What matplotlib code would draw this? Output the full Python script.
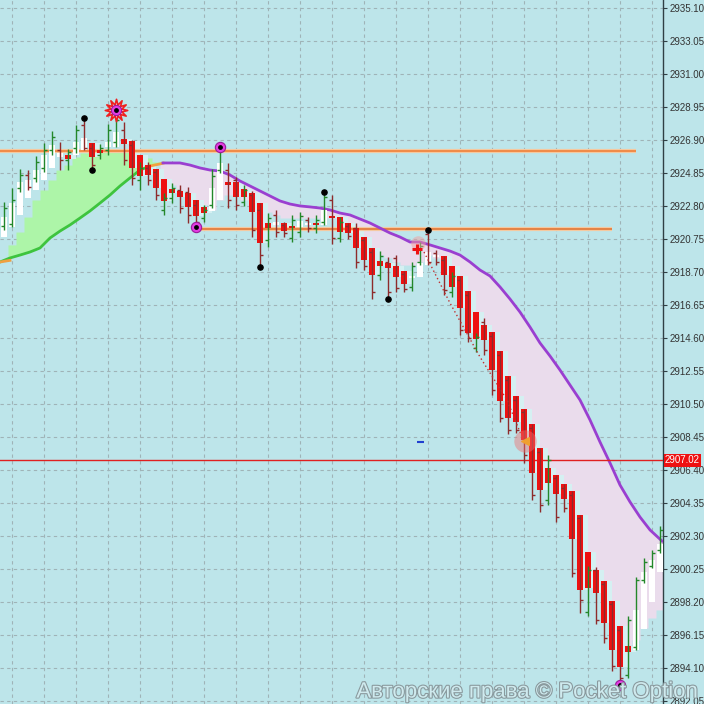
import numpy as np
import matplotlib
matplotlib.use("Agg")
import matplotlib.pyplot as plt
import matplotlib.patheffects as pe
from matplotlib.transforms import blended_transform_factory

plt.rcParams['font.family'] = ['Liberation Sans', 'DejaVu Sans']

# smoothed (heiken-ashi like) bodies, one per bar
ha_open = [2920.88, 2921.50, 2922.25, 2923.30, 2923.80, 2924.42, 2925.17, 2925.85, 2925.97, 2925.97,
           2926.28, 2926.72, 2926.28, 2926.47, 2926.47, 2926.97, 2926.84, 2925.97, 2925.35, 2925.11,
           2924.48, 2923.86, 2923.74, 2923.61, 2923.18, 2922.75, 2922.50, 2923.18, 2924.30, 2924.30,
           2923.86, 2923.61, 2922.99, 2921.75, 2921.63, 2921.75, 2921.57, 2921.50, 2921.63, 2921.75,
           2921.63, 2922.19, 2922.12, 2921.75, 2921.44, 2920.88, 2920.20, 2919.39, 2919.27, 2919.08,
           2918.77, 2918.34, 2918.40, 2919.14, 2919.64, 2919.70, 2919.08, 2918.46, 2917.53, 2916.22,
           2915.42, 2914.98, 2913.80, 2912.25, 2911.01, 2910.20, 2909.27, 2907.78, 2906.54, 2906.10,
           2905.54, 2905.11, 2903.62, 2901.32, 2900.20, 2899.52, 2898.28, 2896.73, 2895.48, 2895.23,
           2896.54, 2898.22, 2900.08]
ha_close = [2922.12, 2922.99, 2924.30, 2924.42, 2925.04, 2925.97, 2926.60, 2926.10, 2925.73, 2926.78,
            2927.03, 2925.85, 2926.10, 2926.78, 2927.40, 2926.66, 2925.17, 2924.67, 2924.73, 2923.93,
            2923.12, 2923.61, 2923.37, 2922.75, 2922.19, 2922.37, 2923.93, 2925.48, 2924.11, 2923.37,
            2923.37, 2922.43, 2920.51, 2921.44, 2921.81, 2921.25, 2921.44, 2921.88, 2921.75, 2921.63,
            2922.56, 2922.06, 2921.19, 2921.13, 2920.20, 2919.45, 2918.52, 2919.08, 2918.96, 2918.40,
            2917.96, 2918.46, 2919.27, 2919.95, 2919.76, 2918.52, 2917.78, 2916.47, 2914.92, 2914.55,
            2914.49, 2912.62, 2910.70, 2909.64, 2909.39, 2908.28, 2906.23, 2905.17, 2905.61, 2904.92,
            2904.61, 2902.13, 2898.96, 2899.09, 2898.77, 2896.91, 2895.23, 2894.18, 2895.11, 2897.72,
            2900.08, 2900.82, 2901.82]

# real OHLC, drawn as thin bars
bar_high = [2923.06, 2923.93, 2925.11, 2925.04, 2925.91, 2926.72, 2927.46, 2926.78, 2926.35, 2927.84,
            2928.27, 2926.72, 2926.66, 2927.90, 2928.58, 2928.02, 2926.91, 2925.54, 2925.54, 2925.11,
            2923.61, 2924.24, 2924.11, 2923.99, 2923.18, 2922.87, 2925.11, 2926.47, 2925.48, 2924.61,
            2924.11, 2923.74, 2922.99, 2922.37, 2922.56, 2921.81, 2922.25, 2922.43, 2922.12, 2922.25,
            2923.68, 2923.49, 2922.12, 2921.75, 2921.75, 2920.88, 2920.20, 2920.01, 2919.64, 2919.76,
            2918.77, 2919.33, 2920.57, 2921.38, 2920.07, 2919.70, 2918.71, 2918.46, 2917.53, 2914.92,
            2915.85, 2914.98, 2913.80, 2912.25, 2911.01, 2910.20, 2909.27, 2907.78, 2907.34, 2906.10,
            2905.54, 2905.11, 2903.62, 2900.45, 2900.39, 2899.52, 2898.28, 2896.73, 2897.35, 2899.77,
            2900.95, 2901.44, 2902.94]
bar_low = [2921.32, 2921.50, 2923.68, 2923.80, 2924.30, 2924.92, 2925.97, 2925.04, 2925.04, 2926.10,
           2926.28, 2925.04, 2925.73, 2925.97, 2926.47, 2925.35, 2924.11, 2923.80, 2924.11, 2923.18,
           2922.25, 2922.99, 2922.37, 2921.75, 2921.50, 2921.81, 2922.68, 2924.86, 2922.68, 2922.56,
           2922.81, 2920.88, 2919.02, 2920.26, 2920.88, 2920.88, 2920.57, 2920.88, 2921.19, 2921.13,
           2921.63, 2920.45, 2920.57, 2920.76, 2918.96, 2918.83, 2917.03, 2918.21, 2917.03, 2917.47,
           2917.47, 2917.53, 2919.14, 2919.14, 2919.14, 2917.28, 2917.16, 2914.80, 2914.36, 2913.74,
           2913.55, 2911.07, 2909.39, 2908.65, 2908.71, 2906.85, 2904.55, 2903.80, 2904.24, 2903.18,
           2903.80, 2899.77, 2897.53, 2897.35, 2896.85, 2895.67, 2893.93, 2893.19, 2893.50, 2895.23,
           2899.40, 2900.33, 2901.26]
bar_open = [2921.57, 2921.69, 2923.93, 2924.73, 2924.55, 2925.17, 2926.28, 2926.28, 2925.66, 2926.41,
            2927.84, 2926.41, 2925.97, 2926.28, 2926.78, 2927.53, 2926.60, 2924.42, 2925.17, 2924.92,
            2922.56, 2923.30, 2923.80, 2923.68, 2922.87, 2922.06, 2922.87, 2925.04, 2925.04, 2924.42,
            2923.06, 2923.49, 2922.56, 2920.70, 2922.25, 2921.63, 2920.82, 2921.19, 2921.94, 2921.44,
            2921.81, 2923.18, 2920.82, 2921.57, 2921.44, 2920.70, 2919.95, 2918.52, 2919.33, 2919.58,
            2918.58, 2917.78, 2919.33, 2921.07, 2919.89, 2919.45, 2917.47, 2918.21, 2917.28, 2913.99,
            2915.60, 2914.73, 2913.55, 2912.00, 2910.76, 2910.01, 2909.02, 2907.53, 2904.55, 2905.92,
            2905.30, 2904.86, 2903.43, 2897.59, 2900.20, 2899.33, 2898.09, 2896.48, 2893.68, 2895.42,
            2899.58, 2900.45, 2901.44]
bar_close = [2922.68, 2923.18, 2924.73, 2923.99, 2925.54, 2926.28, 2927.09, 2925.66, 2926.16, 2927.53,
             2926.41, 2925.35, 2926.41, 2927.53, 2928.15, 2925.66, 2924.55, 2925.17, 2924.42, 2923.49,
             2923.30, 2923.93, 2922.68, 2922.25, 2921.81, 2922.56, 2924.67, 2926.28, 2923.18, 2922.87,
             2923.80, 2921.32, 2919.76, 2922.06, 2921.19, 2921.13, 2921.94, 2922.19, 2921.44, 2921.94,
             2923.37, 2920.82, 2921.81, 2920.94, 2919.33, 2919.08, 2917.47, 2919.70, 2917.47, 2917.72,
             2917.65, 2919.08, 2920.32, 2919.33, 2919.33, 2917.59, 2918.46, 2915.11, 2914.61, 2914.67,
             2913.86, 2911.38, 2909.64, 2908.90, 2908.90, 2907.34, 2904.86, 2904.24, 2907.03, 2903.49,
             2904.05, 2900.02, 2898.34, 2900.20, 2897.10, 2895.98, 2894.24, 2893.50, 2897.10, 2899.58,
             2900.70, 2901.26, 2902.69]

# moving average: green part (rising) and purple part (falling)
ma_green_x = [-0.5, 0.75, 2.0, 3.25, 4.5, 5.75, 7.0, 8.25, 9.5, 10.75, 12.0, 13.25, 14.5, 15.75,
              17.0, 18.25, 19.5, 19.9]
ma_green_y = [2919.33, 2919.58, 2919.76, 2919.95, 2920.20, 2920.82, 2921.25, 2921.63, 2922.06, 2922.50,
              2922.99, 2923.49, 2924.05, 2924.55, 2925.04, 2925.29, 2925.42, 2925.47]
ma_purple_x = [19.875, 22.0, 23.25, 24.5, 25.75, 27.0, 28.25, 29.5, 30.75, 32.0, 33.25, 34.5, 35.75,
               37.0, 38.25, 39.5, 40.75, 42.0, 43.25, 44.5, 45.75, 47.0, 48.25, 49.5, 50.75, 52.0,
               53.25, 54.5, 55.75, 57.0, 58.25, 59.5, 60.75, 62.0, 63.25, 64.5, 65.75, 67.0, 68.25,
               69.5, 70.75, 72.0, 73.25, 74.5, 75.75, 77.0, 78.25, 79.5, 80.75, 82.25]
ma_purple_y = [2925.48, 2925.48, 2925.35, 2925.17, 2925.04, 2924.98, 2924.73, 2924.36, 2924.05, 2923.74,
               2923.43, 2923.12, 2922.93, 2922.81, 2922.75, 2922.68, 2922.56, 2922.37, 2922.25, 2922.00,
               2921.75, 2921.44, 2921.13, 2920.88, 2920.57, 2920.57, 2920.39, 2920.20, 2920.01, 2919.76,
               2919.33, 2918.83, 2918.46, 2917.78, 2917.03, 2916.22, 2915.29, 2914.30, 2913.49, 2912.62,
               2911.69, 2910.76, 2909.52, 2908.15, 2906.85, 2905.48, 2904.43, 2903.49, 2902.69, 2902.00]

# other edge of the shaded band
green_band_idx = list(range(1, 20))
green_band_top = [2920.39, 2921.19, 2922.12, 2923.18, 2923.80, 2924.42, 2925.04, 2925.35, 2925.85, 2926.10,
                  2926.28, 2926.28, 2926.28, 2926.28, 2926.28, 2926.28, 2925.97, 2925.79, 2925.54]
pink_band_idx = list(range(20, 83))
pink_band_low = [2924.42, 2924.11, 2923.80, 2923.61, 2923.18, 2922.87, 2922.56, 2923.18, 2923.49, 2923.49,
                 2923.18, 2922.87, 2922.56, 2922.43, 2922.25, 2922.06, 2922.06, 2922.06, 2922.06, 2922.06,
                 2922.06, 2922.06, 2921.94, 2921.63, 2921.19, 2920.70, 2920.07, 2919.76, 2919.58, 2919.33,
                 2919.14, 2919.14, 2919.33, 2919.76, 2919.58, 2919.33, 2918.83, 2918.21, 2917.28, 2916.04,
                 2915.42, 2914.80, 2913.55, 2912.00, 2910.76, 2910.01, 2909.02, 2907.65, 2906.41, 2905.92,
                 2905.30, 2904.86, 2903.43, 2901.13, 2900.08, 2899.27, 2898.03, 2896.60, 2895.55, 2895.86,
                 2896.60, 2897.22, 2897.72]

# levels and signals
level_hi = 2926.22
level_mid = 2921.38
current_price = 2907.02
pivot_idx = [14, 27, 24, 77]
pivot_val = [2928.77, 2926.47, 2921.50, 2893.06]
dot_idx = [10, 11, 32, 40, 48, 53]
dot_val = [2928.27, 2925.04, 2919.02, 2923.68, 2917.03, 2921.32]
trend_x = [52.5, 55.75, 59.5, 62.875, 64.75]
trend_y = [2919.95, 2916.78, 2913.43, 2910.76, 2908.46]

ticks = [2935.10 - 2.05 * k for k in range(22)]

BG = "#bde5ea"
fig = plt.figure(figsize=(7.04, 7.04), dpi=100, facecolor=BG)
ax = fig.add_axes([0, 0, 663 / 704, 1])
ax.set_facecolor(BG)
ax.set_xlim(-0.5, 82.375)
ax.set_ylim(2891.88, 2935.60)

# grid
ax.set_xticks(np.arange(1, 83, 4))
ax.set_yticks(ticks)
ax.grid(True, color="#9fb3b7", linestyle=(0, (3, 3)), linewidth=0.8)
ax.set_axisbelow(True)

# shaded bands
gx = np.ravel([[i - 0.5, i + 0.5] for i in green_band_idx])
gt = np.repeat(green_band_top, 2)
gb = np.interp(gx, ma_green_x, ma_green_y)
ax.fill_between(gx, gb, gt, where=gt > gb, color="#adf5a8", lw=0, zorder=1)

px = np.ravel([[i - 0.5, i + 0.5] for i in pink_band_idx])
pl = np.repeat(pink_band_low, 2)
pt = np.interp(px, ma_purple_x, ma_purple_y)
ax.fill_between(px, pl, pt, where=pt > pl, color="#eadcec", lw=0, zorder=1)

idx = np.arange(len(ha_open))
o = np.array(ha_open)
c = np.array(ha_close)
up = c >= o
body_lo = np.minimum(o, c)
body_h = np.maximum(np.abs(c - o), 0.12)

# pale ghost boxes next to falling bodies
ax.bar(idx[~up] + 0.45, body_h[~up], bottom=body_lo[~up], width=1.0, color="#d5f0f2", zorder=2)

# MA lines
ax.plot(ma_green_x[:-2], ma_green_y[:-2], color="#3ec43e", lw=2, zorder=4)
ax.plot(ma_green_x[-3:], ma_green_y[-3:], color="#f0a040", lw=2, zorder=4)
ax.plot(ma_green_x[:2], [ma_green_y[0], ma_green_y[0] + 0.1], color="#f0a040", lw=2, zorder=4)
ax.plot(ma_purple_x, ma_purple_y, color="#9a3fd0", lw=2, zorder=4)

# horizontal levels
ax.hlines(level_hi, -0.5, 79, color="#f5c9a0", lw=3, zorder=3)
ax.hlines(level_hi, -0.5, 79, color="#ef7a30", lw=1.1, zorder=3)
ax.hlines(level_mid, 24, 76, color="#f5c9a0", lw=3, zorder=3)
ax.hlines(level_mid, 24, 76, color="#e0702c", lw=1.1, zorder=3)
ax.axhline(current_price, color="#e02020", lw=1, zorder=4)

# bodies
ax.bar(idx, body_h, bottom=body_lo, width=0.7,
       color=np.where(up, "#ffffff", "#ee1111"), zorder=5)

# thin OHLC bars
bo = np.array(bar_open)
bc = np.array(bar_close)
bcol = np.where(bc >= bo, "#23872a", "#8e2b2b")
ax.vlines(idx, bar_low, bar_high, colors=bcol, lw=1, zorder=6)
ax.hlines(bo, idx - 0.35, idx, colors=bcol, lw=1, zorder=6)
ax.hlines(bc, idx, idx + 0.35, colors=bcol, lw=1, zorder=6)

# signals
ax.plot(trend_x, trend_y, color="#c03030", lw=1, ls=(0, (1, 2)), zorder=6)
ax.scatter([pivot_idx[0]], [pivot_val[0]], marker=(12, 1, 0), s=260,
           facecolor="#ffd8d8", edgecolor="#ee2020", lw=1.2, zorder=7)
ax.scatter(pivot_idx, pivot_val, s=55, facecolor="#e23de2", edgecolor="#9a1a9a", lw=0.8, zorder=8)
ax.scatter(pivot_idx, pivot_val, s=6, color="black", zorder=9)
ax.scatter(dot_idx, dot_val, s=14, color="black", zorder=8)
ax.scatter([51.75], [2920.51], s=110, color="#f2a0a0", alpha=0.5, lw=0, zorder=6)
ax.scatter([51.6], [2920.14], marker="+", s=45, color="#ee1111", lw=2.2, zorder=8)
ax.scatter([65.1], [2908.21], s=260, color="#f07070", alpha=0.45, lw=0, zorder=7)
ax.scatter([65.1], [2908.21], marker="<", s=30, color="#f0a030", zorder=8)
ax.hlines(2908.15, 51.65, 52.5, color="#2040d0", lw=1.5, zorder=6)

# right price axis
for s in ["top", "left", "bottom"]:
    ax.spines[s].set_visible(False)
ax.spines["right"].set_color("#2f3f44")
ax.spines["right"].set_linewidth(1)
ax.yaxis.tick_right()
ax.set_yticklabels([f"{t:.2f}" for t in ticks])
ax.tick_params(axis="y", length=3, width=0.8, color="#2f3f44", labelsize=7, labelcolor="#333333", pad=2)
ax.tick_params(axis="x", length=0, labelbottom=False)

trans = blended_transform_factory(ax.transAxes, ax.transData)
ax.text(1.003, current_price, "2907.02", transform=trans, ha="left", va="center",
        fontsize=7, color="white", zorder=10, clip_on=False,
        bbox=dict(boxstyle="square,pad=0.15", facecolor="#ee1111", edgecolor="none"))

fig.text(0.749, 0.017, "Авторские права © Pocket Option", ha="center", va="center",
         fontsize=16, color="#cfeaee", zorder=20,
         path_effects=[pe.withStroke(linewidth=1.6, foreground="#8a9a9e")])

fig.savefig("out.png", dpi=100, facecolor=BG)
plt.close(fig)
